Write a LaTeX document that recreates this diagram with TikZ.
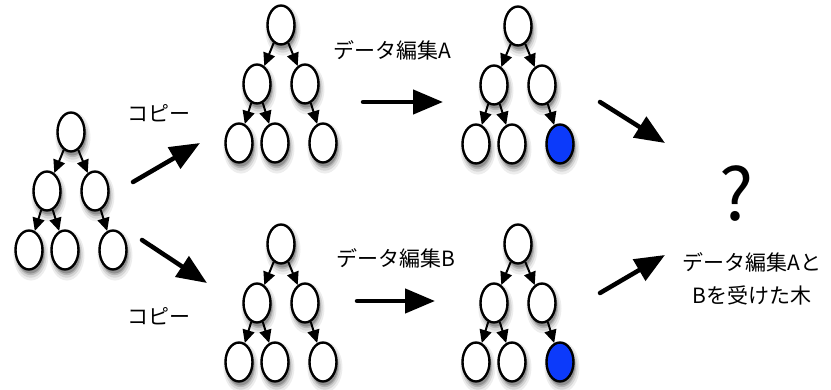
\documentclass[tikz,border=0pt]{standalone}
\usepackage{fontspec}
\setmainfont{Noto Sans CJK JP}
\usepackage{xcolor}
\usetikzlibrary{arrows.meta,shapes.geometric,shadows}

\definecolor{editblue}{RGB}{12,58,250}

\begin{document}
\begin{tikzpicture}[x=1pt, y=1pt,
    level distance=59pt,
    level 1/.style={sibling distance=48pt},
    level 2/.style={sibling distance=36pt},
    edge from parent/.style={draw=none},
    softshadow/.style = {
      general shadow={shadow xshift=1.5pt, shadow yshift=-4pt,
        shadow scale=1.3, fill=black, opacity=0.07},
      general shadow={shadow xshift=1.5pt, shadow yshift=-4pt,
        shadow scale=1.18, fill=black, opacity=0.1},
      general shadow={shadow xshift=1.5pt, shadow yshift=-4pt,
        shadow scale=1.07, fill=black, opacity=0.15},
      general shadow={shadow xshift=1.5pt, shadow yshift=-4pt,
        fill=black, opacity=0.2}},
    treenode/.style = {shape=ellipse, draw, line width=2.4pt,
      fill=white, inner sep=0pt,
      minimum width=27pt, minimum height=39pt, softshadow},
    treeedge/.style = {line width=2pt,
      -{Triangle[length=13pt,width=12pt]}},
    bigarrow/.style = {line width=4.5pt, line cap=round,
      -{Triangle[length=30pt,width=24pt]}},
    label/.style = {font=\fontsize{21pt}{33pt}\selectfont, align=center}]
  \useasboundingbox (0,0) rectangle (831,389);

  % the five trees: source, two copies, two edited copies
  \foreach \px/\py/\nm/\lf in {71/257/src/white, 281/364/cpa/white,
      518/363/eda/editblue, 281/145/cpb/white, 518/145/edb/editblue}{
    \node[treenode] (\nm) at (\px,\py) {}
      child { node[treenode] {}
                child { node[treenode] {} }
                child { node[treenode] {} } }
      child { node[treenode] {}
                child[missing]
                child { node[treenode, fill=\lf] {} } };
    \draw[treeedge] (\nm) -- (\nm-1);
    \draw[treeedge] (\nm) -- (\nm-2);
    \draw[treeedge] (\nm-1) -- (\nm-1-1);
    \draw[treeedge] (\nm-1) -- (\nm-1-2);
    \draw[treeedge] (\nm-2) -- (\nm-2-2);
  }

  % big arrows between the steps
  \coordinate (copyA-s) at (133,207);  \coordinate (copyA-e) at (200,246);
  \coordinate (copyB-s) at (142,149);  \coordinate (copyB-e) at (207,106);
  \coordinate (editA-s) at (363,287);  \coordinate (editA-e) at (443,287);
  \coordinate (editB-s) at (357,88);   \coordinate (editB-e) at (435,88);
  \coordinate (mergeA-s) at (600,287); \coordinate (mergeA-e) at (665,246);
  \coordinate (mergeB-s) at (600,96);  \coordinate (mergeB-e) at (665,134);
  \draw[bigarrow] (copyA-s) -- (copyA-e);
  \draw[bigarrow] (copyB-s) -- (copyB-e);
  \draw[bigarrow] (editA-s) -- (editA-e);
  \draw[bigarrow] (editB-s) -- (editB-e);
  \draw[bigarrow] (mergeA-s) -- (mergeA-e);
  \draw[bigarrow] (mergeB-s) -- (mergeB-e);

  % texts
  \node[label] (copyA) at (159,276) {コピー};
  \node[label] (copyB) at (159,73) {コピー};
  \node[label] (editA) at (392,339) {データ編集A};
  \node[label] (editB) at (396,131) {データ編集B};
  \node[font=\fontsize{72pt}{72pt}\selectfont] (qmark) at (737,195) {?};
  \node[label] (result) at (752,110) {データ編集Aと\\Bを受けた木};
\end{tikzpicture}
\end{document}
